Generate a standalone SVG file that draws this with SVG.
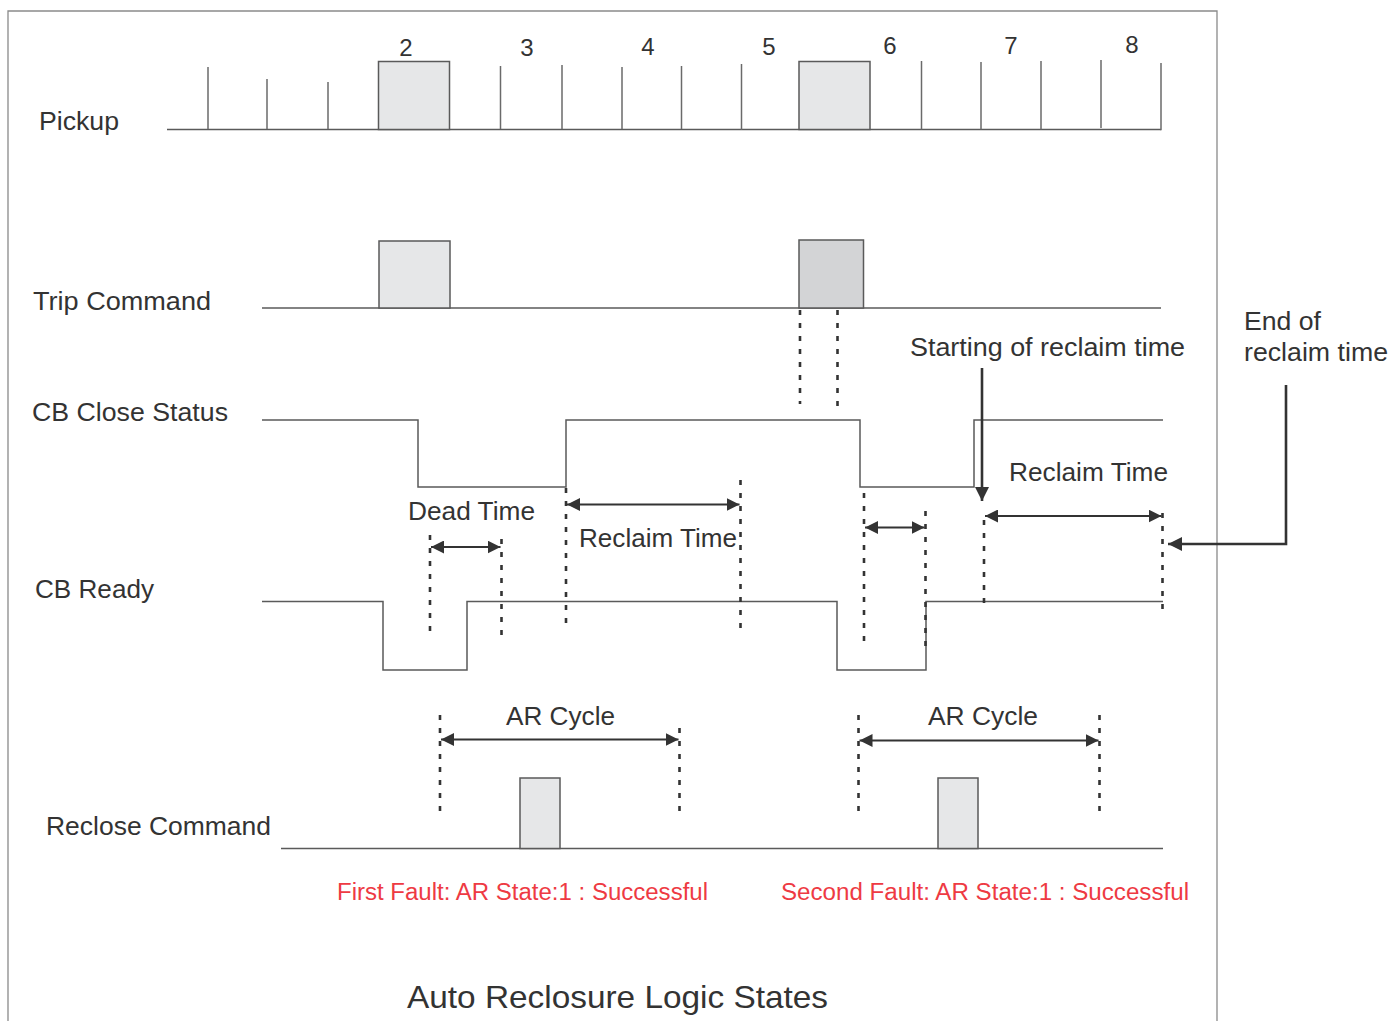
<svg xmlns="http://www.w3.org/2000/svg" width="1390" height="1021" viewBox="0 0 1390 1021">
<style>
  text { font-family: "Liberation Sans", Arial, sans-serif; fill: #333333; }
  .lbl { font-size: 25px; }
  .num { font-size: 24px; text-anchor: middle; }
  .red { font-size: 23px; fill: #ee3a43; }
  .title { font-size: 32px; }
  .sig { fill: none; stroke: #5a5a5a; stroke-width: 1.5; }
  .tick { stroke: #6a6a6a; stroke-width: 1.5; }
  .box1 { fill: #e6e7e8; stroke: #5a5a5a; stroke-width: 1.5; }
  .box2 { fill: #d3d4d6; stroke: #5a5a5a; stroke-width: 1.5; }
  .dash { stroke: #333333; stroke-width: 2.6; stroke-dasharray: 5 8; fill: none; }
  .dim { stroke: #333333; stroke-width: 2; fill: none; marker-start: url(#ah); marker-end: url(#ah); }
  .call { stroke: #333333; stroke-width: 2.6; fill: none; marker-end: url(#ah2); }
</style>
<defs>
  <marker id="ah" markerUnits="userSpaceOnUse" markerWidth="13" markerHeight="13" refX="12" refY="6" orient="auto-start-reverse" viewBox="0 0 12 12">
    <path d="M0,0 L12,6 L0,12 z" fill="#333333"/>
  </marker>
  <marker id="ah2" markerUnits="userSpaceOnUse" markerWidth="14" markerHeight="14" refX="13" refY="6.5" orient="auto" viewBox="0 0 13 13">
    <path d="M0,0 L13,6.5 L0,13 z" fill="#333333"/>
  </marker>
</defs>
<rect width="1390" height="1021" fill="#ffffff"/>
<path d="M8,1021 V11 H1217 V1021" fill="none" stroke="#8a8a8a" stroke-width="1.3"/>

<g id="pickup">
  <text class="lbl" x="39" y="130" textLength="80" lengthAdjust="spacingAndGlyphs">Pickup</text>
  <line class="sig" x1="167" y1="129.5" x2="1161" y2="129.5"/>
  <line class="tick" x1="208" y1="67" x2="208" y2="129"/>
  <line class="tick" x1="267" y1="79" x2="267" y2="129"/>
  <line class="tick" x1="328" y1="82" x2="328" y2="129"/>
  <rect class="box1" x="378.5" y="61.5" width="71" height="68"/>
  <line class="tick" x1="500.5" y1="66" x2="500.5" y2="129"/>
  <line class="tick" x1="562" y1="65" x2="562" y2="129"/>
  <line class="tick" x1="622" y1="67" x2="622" y2="129"/>
  <line class="tick" x1="681.5" y1="66" x2="681.5" y2="129"/>
  <line class="tick" x1="741.5" y1="64" x2="741.5" y2="130"/>
  <rect class="box1" x="799" y="61.5" width="71" height="68"/>
  <line class="tick" x1="921.5" y1="61" x2="921.5" y2="129.5"/>
  <line class="tick" x1="981" y1="62" x2="981" y2="129.5"/>
  <line class="tick" x1="1041" y1="61" x2="1041" y2="129.5"/>
  <line class="tick" x1="1101" y1="60" x2="1101" y2="128"/>
  <line class="tick" x1="1161" y1="63" x2="1161" y2="130.25"/>
  <text class="num" x="406" y="56">2</text>
  <text class="num" x="527" y="56">3</text>
  <text class="num" x="648" y="55">4</text>
  <text class="num" x="769" y="55">5</text>
  <text class="num" x="890" y="54">6</text>
  <text class="num" x="1011" y="54">7</text>
  <text class="num" x="1132" y="53">8</text>
</g>

<g id="trip-command">
  <text class="lbl" x="33" y="310" textLength="178" lengthAdjust="spacingAndGlyphs">Trip Command</text>
  <line class="sig" x1="262" y1="308" x2="1161" y2="308"/>
  <rect class="box1" x="379" y="241" width="71" height="67"/>
  <rect class="box2" x="799" y="240" width="64.5" height="68"/>
</g>

<g id="cb-close-status">
  <text class="lbl" x="32" y="421" textLength="196" lengthAdjust="spacingAndGlyphs">CB Close Status</text>
  <path class="sig" d="M262,420 H418 V487 H566 V420 H860 V487 H974 V420 H1163"/>
</g>

<g id="cb-ready">
  <text class="lbl" x="35" y="598" textLength="119" lengthAdjust="spacingAndGlyphs">CB Ready</text>
  <path class="sig" d="M262,601.5 H383 V670 H467 V601.5 H837 V670 H926 V601.5 H1163"/>
</g>

<g id="reclose-command">
  <text class="lbl" x="46" y="835" textLength="225" lengthAdjust="spacingAndGlyphs">Reclose Command</text>
  <line class="sig" x1="281" y1="848.5" x2="1163" y2="848.5"/>
  <rect class="box1" x="520" y="778" width="40" height="70.5"/>
  <rect class="box1" x="938" y="778" width="40" height="70.5"/>
</g>

<g id="connectors">
  <!-- dotted guides -->
  <line class="dash" x1="800" y1="310" x2="800" y2="404"/>
  <line class="dash" x1="837.5" y1="310" x2="837.5" y2="412"/>
  <line class="dash" x1="430" y1="535" x2="430" y2="634"/>
  <line class="dash" x1="501.5" y1="539" x2="501.5" y2="638"/>
  <line class="dash" x1="566" y1="488" x2="566" y2="626"/>
  <line class="dash" x1="740.5" y1="480" x2="740.5" y2="629"/>
  <line class="dash" x1="864" y1="493" x2="864" y2="641"/>
  <line class="dash" x1="925.5" y1="511" x2="925.5" y2="647"/>
  <line class="dash" x1="984" y1="520" x2="984" y2="606"/>
  <line class="dash" x1="1162.5" y1="513" x2="1162.5" y2="609"/>
  <line class="dash" x1="440" y1="715" x2="440" y2="815"/>
  <line class="dash" x1="679.5" y1="728" x2="679.5" y2="815"/>
  <line class="dash" x1="858.5" y1="715" x2="858.5" y2="816"/>
  <line class="dash" x1="1099.5" y1="715" x2="1099.5" y2="815"/>
  <!-- dimension arrows -->
  <line class="dim" x1="431" y1="547" x2="500.5" y2="547"/>
  <line class="dim" x1="567" y1="504.5" x2="739.5" y2="504.5"/>
  <line class="dim" x1="865" y1="527.5" x2="924.5" y2="527.5"/>
  <line class="dim" x1="985" y1="516" x2="1161.5" y2="516"/>
  <line class="dim" x1="441" y1="739.5" x2="678.5" y2="739.5"/>
  <line class="dim" x1="859.5" y1="740.5" x2="1098.5" y2="740.5"/>
  <!-- callout arrows -->
  <line class="call" x1="982" y1="368" x2="982" y2="501"/>
  <polyline class="call" points="1286,385 1286,544 1168,544"/>
</g>

<g id="annotations">
  <text class="lbl" x="408" y="520" textLength="127" lengthAdjust="spacingAndGlyphs">Dead Time</text>
  <text class="lbl" x="579" y="547" textLength="158" lengthAdjust="spacingAndGlyphs">Reclaim Time</text>
  <text class="lbl" x="910" y="356" textLength="275" lengthAdjust="spacingAndGlyphs">Starting of reclaim time</text>
  <text class="lbl" x="1009" y="481" textLength="159" lengthAdjust="spacingAndGlyphs">Reclaim Time</text>
  <text class="lbl" x="1244" y="330" textLength="77" lengthAdjust="spacingAndGlyphs">End of</text>
  <text class="lbl" x="1244" y="361" textLength="144" lengthAdjust="spacingAndGlyphs">reclaim time</text>
  <text class="lbl" x="506" y="725" textLength="109" lengthAdjust="spacingAndGlyphs">AR Cycle</text>
  <text class="lbl" x="928" y="725" textLength="110" lengthAdjust="spacingAndGlyphs">AR Cycle</text>
  <text class="red" x="337" y="900" textLength="371" lengthAdjust="spacingAndGlyphs">First Fault: AR State:1 : Successful</text>
  <text class="red" x="781" y="900" textLength="408" lengthAdjust="spacingAndGlyphs">Second Fault: AR State:1 : Successful</text>
  <text class="title" x="407" y="1008" textLength="421" lengthAdjust="spacingAndGlyphs">Auto Reclosure Logic States</text>
</g>
</svg>
